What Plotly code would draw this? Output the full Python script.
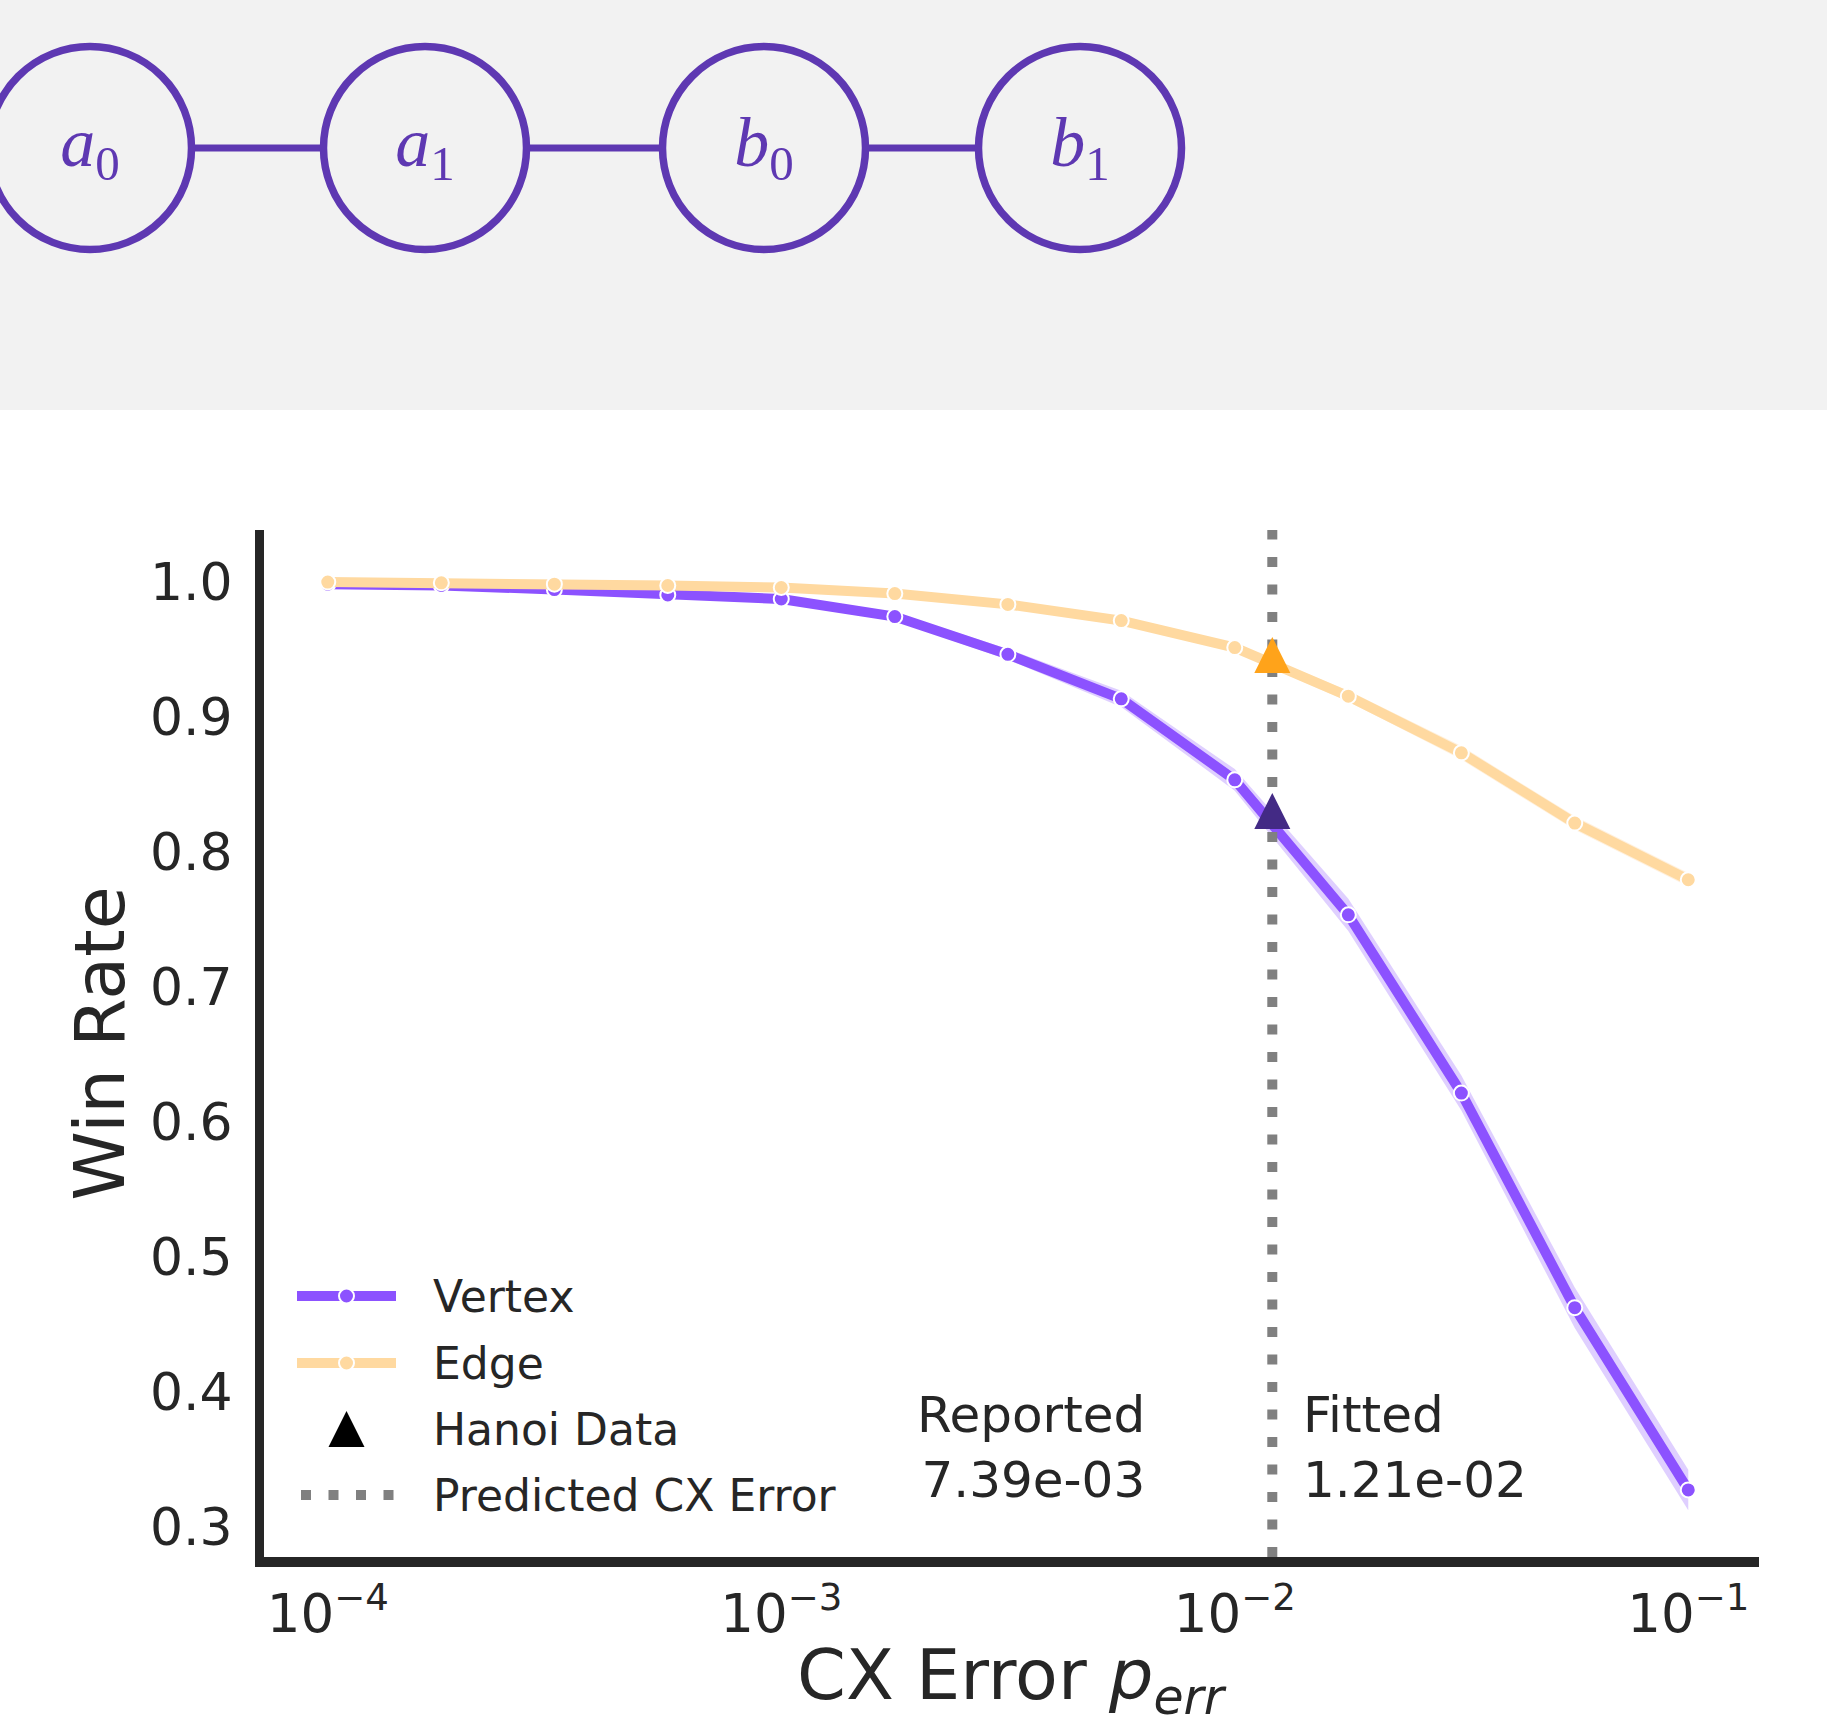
import plotly.graph_objects as go

# ---------------- data ----------------
p_err = [1.0e-4, 1.78e-4, 3.16e-4, 5.62e-4, 1.0e-3, 1.78e-3, 3.16e-3,
         5.62e-3, 1.0e-2, 1.78e-2, 3.16e-2, 5.62e-2, 1.0e-1]
vertex_win = [0.998, 0.997, 0.994, 0.990, 0.987, 0.974, 0.946,
              0.913, 0.853, 0.753, 0.621, 0.462, 0.327]
vertex_ci = [0.001, 0.001, 0.001, 0.002, 0.002, 0.003, 0.004,
             0.006, 0.008, 0.012, 0.013, 0.015, 0.015]
edge_win = [0.9995, 0.999, 0.998, 0.997, 0.9955, 0.991, 0.983,
            0.971, 0.951, 0.915, 0.873, 0.821, 0.779]
edge_ci = [0.0005, 0.0005, 0.001, 0.001, 0.001, 0.002, 0.002,
           0.003, 0.003, 0.004, 0.005, 0.005, 0.005]
hanoi_p = [1.21e-2]
hanoi_vertex = [0.830]
hanoi_edge = [0.9455]
reported_cx = 7.39e-3
fitted_cx = 1.21e-2

x_tickvals = [1e-4, 1e-3, 1e-2, 1e-1]
x_ticktext = ["10<sup>\u22124</sup>", "10<sup>\u22123</sup>",
              "10<sup>\u22122</sup>", "10<sup>\u22121</sup>"]
y_tickvals = [0.3, 0.4, 0.5, 0.6, 0.7, 0.8, 0.9, 1.0]
y_ticktext = ["0.3", "0.4", "0.5", "0.6", "0.7", "0.8", "0.9", "1.0"]

# coupling graph
nodes = ["a0", "a1", "b0", "b1"]
node_labels = ["<i>a</i><sub>0</sub>", "<i>a</i><sub>1</sub>",
               "<i>b</i><sub>0</sub>", "<i>b</i><sub>1</sub>"]
graph_edges = [("a0", "a1"), ("a1", "b0"), ("b0", "b1")]
# graph layout (canvas pixel coordinates)
node_pos = {"a0": (90, 148), "a1": (425, 148), "b0": (764, 148), "b1": (1080, 148)}

legend_names = ["Vertex", "Edge", "Hanoi Data", "Predicted CX Error"]

# ---------------- style ----------------
W, H = 1827, 1727
TXT = "#262626"
FONT = "DejaVu Sans"
C_VERTEX = "#8c52ff"
C_VERTEX_BAND = "rgba(140,82,255,0.28)"
C_EDGE = "#ffd9a0"
C_EDGE_BAND = "rgba(255,205,140,0.30)"
C_HANOI_V = "#432a85"
C_HANOI_E = "#ffa31a"
C_GRAPH = "#5e38b2"
C_BG_TOP = "#f2f2f2"
DOT_DASH = "10px,17.5px"
TRI = dict(symbol="arrow-down", angle=180, size=36, standoff=18, line=dict(width=0))

X_RANGE = [-4.1406, -0.844]
Y_RANGE = [0.2773, 1.0381]
plot_l, plot_r, plot_t, plot_b = 264, 1759, 530, 1557


def px_x(v):
    return v / W


def px_y(v):
    return 1 - v / H


fig = go.Figure()

# ---- main chart ----
v_lo = [v - e for v, e in zip(vertex_win, vertex_ci)]
v_hi = [v + e for v, e in zip(vertex_win, vertex_ci)]
e_lo = [v - e for v, e in zip(edge_win, edge_ci)]
e_hi = [v + e for v, e in zip(edge_win, edge_ci)]

fig.add_trace(go.Scatter(x=p_err, y=v_lo, mode="lines", line=dict(width=0),
                         showlegend=False, hoverinfo="skip"))
fig.add_trace(go.Scatter(x=p_err, y=v_hi, mode="lines", line=dict(width=0),
                         fill="tonexty", fillcolor=C_VERTEX_BAND,
                         showlegend=False, hoverinfo="skip"))
fig.add_trace(go.Scatter(x=p_err, y=vertex_win, mode="lines+markers", name="Vertex",
                         line=dict(color=C_VERTEX, width=10),
                         marker=dict(size=15, color=C_VERTEX,
                                     line=dict(color="white", width=2)),
                         showlegend=False))
fig.add_trace(go.Scatter(x=p_err, y=e_lo, mode="lines", line=dict(width=0),
                         showlegend=False, hoverinfo="skip"))
fig.add_trace(go.Scatter(x=p_err, y=e_hi, mode="lines", line=dict(width=0),
                         fill="tonexty", fillcolor=C_EDGE_BAND,
                         showlegend=False, hoverinfo="skip"))
fig.add_trace(go.Scatter(x=p_err, y=edge_win, mode="lines+markers", name="Edge",
                         line=dict(color=C_EDGE, width=10),
                         marker=dict(size=15, color=C_EDGE,
                                     line=dict(color="white", width=2)),
                         showlegend=False))
# predicted CX error vertical line
fig.add_trace(go.Scatter(x=[fitted_cx, fitted_cx], y=Y_RANGE, mode="lines",
                         line=dict(color="#808080", width=10, dash=DOT_DASH),
                         showlegend=False, hoverinfo="skip"))
# Hanoi data triangles
fig.add_trace(go.Scatter(x=hanoi_p, y=hanoi_vertex, mode="markers",
                         marker=dict(color=C_HANOI_V, **TRI), showlegend=False))
fig.add_trace(go.Scatter(x=hanoi_p, y=hanoi_edge, mode="markers",
                         marker=dict(color=C_HANOI_E, **TRI), showlegend=False))

# ---- canvas subplot (x2/y2) for coupling graph + legend ----
ex, ey = [], []
for a, b in graph_edges:
    ex += [node_pos[a][0], node_pos[b][0], None]
    ey += [node_pos[a][1], node_pos[b][1], None]
fig.add_trace(go.Scatter(x=ex, y=ey, mode="lines", xaxis="x2", yaxis="y2",
                         line=dict(color=C_GRAPH, width=7),
                         showlegend=False, hoverinfo="skip"))
fig.add_trace(go.Scatter(x=[node_pos[n][0] for n in nodes],
                         y=[node_pos[n][1] for n in nodes],
                         mode="markers+text", xaxis="x2", yaxis="y2",
                         text=node_labels, textposition="middle center",
                         textfont=dict(family="Liberation Serif", size=70, color=C_GRAPH),
                         marker=dict(size=203, color=C_BG_TOP,
                                     line=dict(color=C_GRAPH, width=7.5)),
                         showlegend=False, hoverinfo="skip"))

# manual legend
leg_rows = [1296, 1363, 1429, 1495]
lx0, lx1, ltx = 297, 396, 431
lxm = (lx0 + lx1) / 2
for row, col in zip(leg_rows[:2], [C_VERTEX, C_EDGE]):
    fig.add_trace(go.Scatter(x=[lx0, lx1], y=[row, row], mode="lines",
                             xaxis="x2", yaxis="y2",
                             line=dict(color=col, width=10),
                             showlegend=False, hoverinfo="skip"))
    fig.add_trace(go.Scatter(x=[lxm], y=[row], mode="markers",
                             xaxis="x2", yaxis="y2",
                             marker=dict(size=15, color=col,
                                         line=dict(color="white", width=2)),
                             showlegend=False, hoverinfo="skip"))
fig.add_trace(go.Scatter(x=[lxm], y=[leg_rows[2]], mode="markers",
                         xaxis="x2", yaxis="y2",
                         marker=dict(color="black", **TRI),
                         showlegend=False, hoverinfo="skip"))
fig.add_trace(go.Scatter(x=[lx0 + 4, lx1], y=[leg_rows[3], leg_rows[3]], mode="lines",
                         xaxis="x2", yaxis="y2",
                         line=dict(color="#808080", width=10, dash=DOT_DASH),
                         showlegend=False, hoverinfo="skip"))

annotations = []
for name, row in zip(legend_names, leg_rows):
    annotations.append(dict(x=ltx, y=row, xref="x2", yref="y2", text=name,
                            showarrow=False, xanchor="left", yanchor="middle",
                            font=dict(family=FONT, size=44, color=TXT)))

# value annotations
annotations.append(dict(x=-2.1314, y=px_y(1447), xref="x", yref="paper",
                        text="Reported<br>%.2e" % reported_cx, showarrow=False,
                        xanchor="right", yanchor="middle", align="right", xshift=-28,
                        font=dict(family=FONT, size=50, color=TXT)))
annotations.append(dict(x=-1.9172, y=px_y(1447), xref="x", yref="paper",
                        text="Fitted<br>%.2e" % fitted_cx, showarrow=False,
                        xanchor="left", yanchor="middle", align="left", xshift=29,
                        font=dict(family=FONT, size=50, color=TXT)))
# axis titles
annotations.append(dict(x=px_x(99), y=px_y((plot_t + plot_b) / 2), xref="paper", yref="paper",
                        text="Win Rate", textangle=-90, showarrow=False,
                        xanchor="center", yanchor="middle",
                        font=dict(family=FONT, size=70, color=TXT)))
annotations.append(dict(x=px_x((plot_l + plot_r) / 2), y=0, xref="paper", yref="paper",
                        text="CX Error <i>p</i><sub><i>err</i></sub>", showarrow=False,
                        xanchor="center", yanchor="bottom", borderpad=0,
                        font=dict(family=FONT, size=70, color=TXT)))

fig.update_layout(
    width=W, height=H,
    margin=dict(l=0, r=0, t=0, b=0),
    paper_bgcolor="white", plot_bgcolor="rgba(0,0,0,0)",
    showlegend=False,
    font=dict(family=FONT, color=TXT),
    xaxis=dict(type="log", range=X_RANGE, domain=[px_x(plot_l), px_x(plot_r)],
               anchor="y", showline=True, linewidth=9.5, linecolor=TXT,
               showgrid=False, zeroline=False, ticks="", ticklabelstandoff=2,
               tickvals=x_tickvals, ticktext=x_ticktext,
               tickfont=dict(family=FONT, size=53, color=TXT)),
    yaxis=dict(range=Y_RANGE, domain=[px_y(plot_b), px_y(plot_t)],
               anchor="x", showline=True, linewidth=9, linecolor=TXT,
               showgrid=False, zeroline=False, ticks="", ticklabelstandoff=12,
               tickvals=y_tickvals, ticktext=y_ticktext,
               tickfont=dict(family=FONT, size=52, color=TXT)),
    xaxis2=dict(domain=[0, 1], range=[0, W], anchor="y2", visible=False, fixedrange=True),
    yaxis2=dict(domain=[0, 1], range=[H, 0], anchor="x2", visible=False, fixedrange=True),
    shapes=[dict(type="rect", xref="paper", yref="paper", x0=0, x1=1,
                 y0=px_y(410), y1=1, fillcolor=C_BG_TOP, line=dict(width=0),
                 layer="below")],
    annotations=annotations,
)

fig.write_html("out.html", config={"displayModeBar": False},
               post_script="document.body.style.margin='0';document.body.style.padding='0';")
